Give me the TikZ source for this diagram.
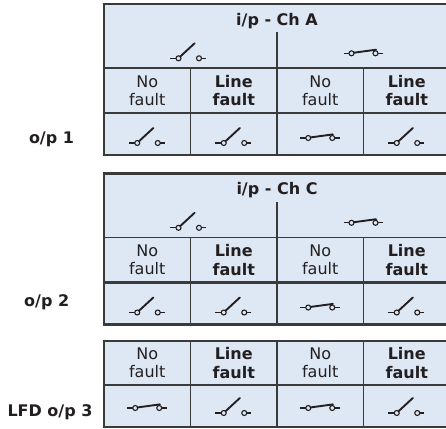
\documentclass[tikz,border=0pt]{standalone}
\usepackage{fontspec}
\setmainfont{DejaVu Sans}
\definecolor{cellblue}{RGB}{222,232,245}
\definecolor{rulegray}{RGB}{58,58,58}
\definecolor{textgray}{RGB}{35,31,32}

\begin{document}
\begin{tikzpicture}[%
      x=1pt, y=-1pt,
      cell/.style={fill=cellblue},
      thinrule/.style={color=rulegray, line width=1.1pt},
      thickrule/.style={color=rulegray, line width=2.4pt},
      txt/.style={text=textgray, inner sep=0pt, align=center,
        font=\fontsize{16}{18.3}\selectfont},
      boldtxt/.style={txt, font=\fontsize{16}{18.3}\selectfont\bfseries},
      lead/.style={color=textgray, line width=1.1pt},
      blade/.style={color=textgray, line width=1.9pt, line cap=round},
      opensw/.pic={
        \draw[lead] (-18.5,6) -- (-12.5,6);
        \draw[lead, fill=cellblue] (-10,6) circle [radius=2.5pt];
        \draw[blade] (-8.3,4.3) -- (6.1,-9);
        \draw[lead, fill=cellblue] (10.5,6) circle [radius=2.5pt];
        \draw[lead] (13,6) -- (17.5,6);
      },
      closedsw/.pic={
        \draw[lead] (-20,1) -- (-14.5,1);
        \draw[lead, fill=cellblue] (-12,1) circle [radius=2.5pt];
        \draw[blade] (-9.6,0.4) -- (12.6,-2.6);
        \draw[lead, fill=cellblue] (12,1) circle [radius=2.5pt];
        \draw[lead] (14.5,1) -- (19.5,1);
      },
      ]
      \useasboundingbox (0,0) rectangle (446,428);

      % table for channel A
      \fill[cell] (104,4) rectangle (450,155);
      \draw[thinrule] (104,68) -- (450,68);
      \draw[thinrule] (277,32) -- (277,155);
      \draw[thinrule] (190.5,68) -- (190.5,155);
      \draw[thinrule] (363.5,68) -- (363.5,155);
      \draw[thickrule] (104,113) -- (450,113);
      \draw[thickrule] (450,4) -- (104,4) -- (104,155) -- (450,155);

      \node[boldtxt, anchor=base] (chA) at (277,25.3) {i/p - Ch A};
      \pic at (188.5,52.3) {opensw};
      \pic at (363.5,52.3) {closedsw};
      \node[txt] (nfA1) at (147.25,90.5) {No\\fault};
      \node[boldtxt] (lfA1) at (233.75,90.5) {Line\\fault};
      \node[txt] (nfA2) at (320.25,90.5) {No\\fault};
      \node[boldtxt] (lfA2) at (406.75,90.5) {Line\\fault};
      \pic at (147.25,137) {opensw};
      \pic at (233.75,137) {opensw};
      \pic at (320.25,137) {closedsw};
      \pic at (406.75,137) {opensw};
      \node[boldtxt, anchor=base] (op1) at (51.5,143.3) {o/p 1};

      % table for channel C
      \fill[cell] (104,173.5) rectangle (450,324.5);
      \draw[thinrule] (104,237.5) -- (450,237.5);
      \draw[thinrule] (277,201.5) -- (277,324.5);
      \draw[thinrule] (190.5,237.5) -- (190.5,324.5);
      \draw[thinrule] (363.5,237.5) -- (363.5,324.5);
      \draw[thickrule] (104,282.5) -- (450,282.5);
      \draw[thickrule] (450,173.5) -- (104,173.5) -- (104,324.5) -- (450,324.5);

      \node[boldtxt, anchor=base] (chC) at (277,194.8) {i/p - Ch C};
      \pic at (188.5,221.8) {opensw};
      \pic at (363.5,221.8) {closedsw};
      \node[txt] (nfC1) at (147.25,260) {No\\fault};
      \node[boldtxt] (lfC1) at (233.75,260) {Line\\fault};
      \node[txt] (nfC2) at (320.25,260) {No\\fault};
      \node[boldtxt] (lfC2) at (406.75,260) {Line\\fault};
      \pic at (147.25,306.5) {opensw};
      \pic at (233.75,306.5) {opensw};
      \pic at (320.25,306.5) {closedsw};
      \pic at (406.75,306.5) {opensw};
      \node[boldtxt, anchor=base] (op2) at (46.7,306.7) {o/p 2};

      % line fault detect table
      \fill[cell] (104,341) rectangle (450,427);
      \draw[thinrule] (190.5,341) -- (190.5,427);
      \draw[thinrule] (277,341) -- (277,427);
      \draw[thinrule] (363.5,341) -- (363.5,427);
      \draw[thickrule] (104,385) -- (450,385);
      \draw[thickrule] (450,341) -- (104,341) -- (104,427) -- (450,427);

      \node[txt] (nfL1) at (147.25,363) {No\\fault};
      \node[boldtxt] (lfL1) at (233.75,363) {Line\\fault};
      \node[txt] (nfL2) at (320.25,363) {No\\fault};
      \node[boldtxt] (lfL2) at (406.75,363) {Line\\fault};
      \pic at (147.25,407) {closedsw};
      \pic at (233.75,407) {opensw};
      \pic at (320.25,407) {closedsw};
      \pic at (406.75,407) {opensw};
      \node[boldtxt, anchor=base] (op3) at (50,416) {LFD o/p 3};
      \end{tikzpicture}
\end{document}
